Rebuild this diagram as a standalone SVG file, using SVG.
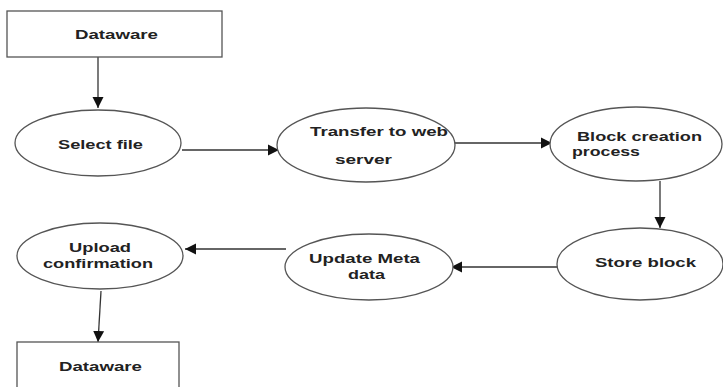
<svg xmlns="http://www.w3.org/2000/svg" width="723" height="387" viewBox="0 0 723 387">
<style>
.n{fill:#fff;stroke:#555;stroke-width:1.3}
.t{font-family:"Liberation Sans",Arial,sans-serif;font-weight:bold;font-size:13px;fill:#222}
.c{fill:none;stroke:#333;stroke-width:1.3}
</style>
<defs>
<marker id="a" markerUnits="userSpaceOnUse" markerWidth="12" markerHeight="12" viewBox="0 0 12 12" refX="11" refY="6" orient="auto">
<path d="M0,0.5 L11,6 L0,11.5 Z" fill="#111"/>
</marker>
</defs>
<rect width="723" height="387" fill="#fff"/>
<g id="connectors">
<line class="c" x1="98" y1="57" x2="98" y2="108" marker-end="url(#a)"/>
<line class="c" x1="182" y1="150" x2="279" y2="150" marker-end="url(#a)"/>
<line class="c" x1="455" y1="143" x2="552" y2="143" marker-end="url(#a)"/>
<line class="c" x1="660" y1="181" x2="660" y2="228" marker-end="url(#a)"/>
<line class="c" x1="558" y1="267" x2="451" y2="267" marker-end="url(#a)"/>
<line class="c" x1="286" y1="249" x2="185" y2="249" marker-end="url(#a)"/>
<line class="c" x1="101" y1="291" x2="98" y2="342" marker-end="url(#a)"/>
</g>
<g id="dataware-top">
<rect class="n" x="7" y="11" width="215" height="46"/>
<text class="t" x="75" y="39" textLength="83" lengthAdjust="spacingAndGlyphs">Dataware</text>
</g>
<g id="select-file">
<ellipse class="n" cx="98" cy="143" rx="83" ry="33"/>
<text class="t" x="58" y="149" textLength="85" lengthAdjust="spacingAndGlyphs">Select file</text>
</g>
<g id="transfer">
<ellipse class="n" cx="366" cy="145" rx="89" ry="37"/>
<text class="t" x="310" y="136" textLength="138" lengthAdjust="spacingAndGlyphs">Transfer to web</text>
<text class="t" x="335" y="164" textLength="57" lengthAdjust="spacingAndGlyphs">server</text>
</g>
<g id="block-creation">
<ellipse class="n" cx="636" cy="144" rx="86" ry="37"/>
<text class="t" x="577" y="141" textLength="125" lengthAdjust="spacingAndGlyphs">Block creation</text>
<text class="t" x="572" y="156" textLength="68" lengthAdjust="spacingAndGlyphs">process</text>
</g>
<g id="store-block">
<ellipse class="n" cx="640" cy="264" rx="83" ry="36"/>
<text class="t" x="595" y="267" textLength="101" lengthAdjust="spacingAndGlyphs">Store block</text>
</g>
<g id="update-meta">
<ellipse class="n" cx="369" cy="267" rx="84" ry="33"/>
<text class="t" x="309" y="263" textLength="111" lengthAdjust="spacingAndGlyphs">Update Meta</text>
<text class="t" x="348" y="279" textLength="37" lengthAdjust="spacingAndGlyphs">data</text>
</g>
<g id="upload-confirmation">
<ellipse class="n" cx="100" cy="256" rx="83" ry="33"/>
<text class="t" x="69" y="252" textLength="62" lengthAdjust="spacingAndGlyphs">Upload</text>
<text class="t" x="43" y="268" textLength="110" lengthAdjust="spacingAndGlyphs">confirmation</text>
</g>
<g id="dataware-bottom">
<rect class="n" x="17" y="342" width="162" height="50"/>
<text class="t" x="59" y="371" textLength="83" lengthAdjust="spacingAndGlyphs">Dataware</text>
</g>
</svg>
